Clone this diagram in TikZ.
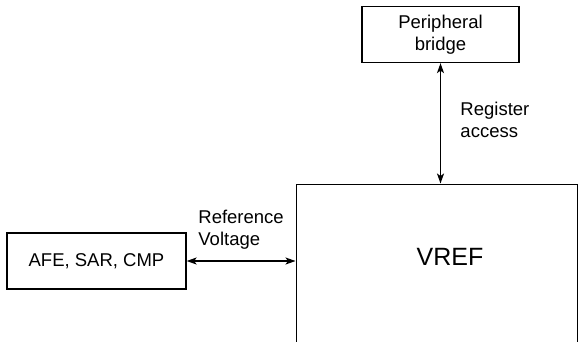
\documentclass[tikz,border=0pt]{standalone}
\usepackage{fontspec}
\setmainfont{Liberation Sans}
\usetikzlibrary{arrows.meta, positioning}

\begin{document}
\begin{tikzpicture}[x=1pt, y=-1pt, line width=1.3pt,
    blk/.style={draw, minimum width=#1, minimum height=56pt, inner sep=2pt, align=center, font=\fontsize{18.5}{22}\selectfont},
    lbl/.style={align=left, font=\fontsize{18.5}{22}\selectfont},
    link/.style={{Stealth[length=10pt,width=7pt,inset=2.5pt]}-{Stealth[length=10pt,width=7pt,inset=2.5pt]}}]
    \useasboundingbox (0,0) rectangle (578,341);
    \clip (0,0) rectangle (578,341);

    % Blocks
    \node[blk=157pt] (bridge) at (440.5,34.5) {Peripheral\\bridge};
    \node[blk=179pt] (afe) at (96.5,261) {AFE, SAR, CMP};
    \node[draw, minimum width=281pt, minimum height=240pt, anchor=north west] (vrefbox) at (295.5,183.5) {};
    \node[font=\fontsize{25}{30}\selectfont] (vref) at (450,257) {VREF};

    % Arrows
    \draw[link] (bridge.south) -- (bridge.south |- vrefbox.north)
        node[pos=0.47, right=16pt, lbl] (regacc) {Register\\access};
    \draw[link] (afe.east) -- (afe.east -| vrefbox.west)
        node[midway, above=8pt, lbl] (refvolt) {Reference\\Voltage};
\end{tikzpicture}
\end{document}
